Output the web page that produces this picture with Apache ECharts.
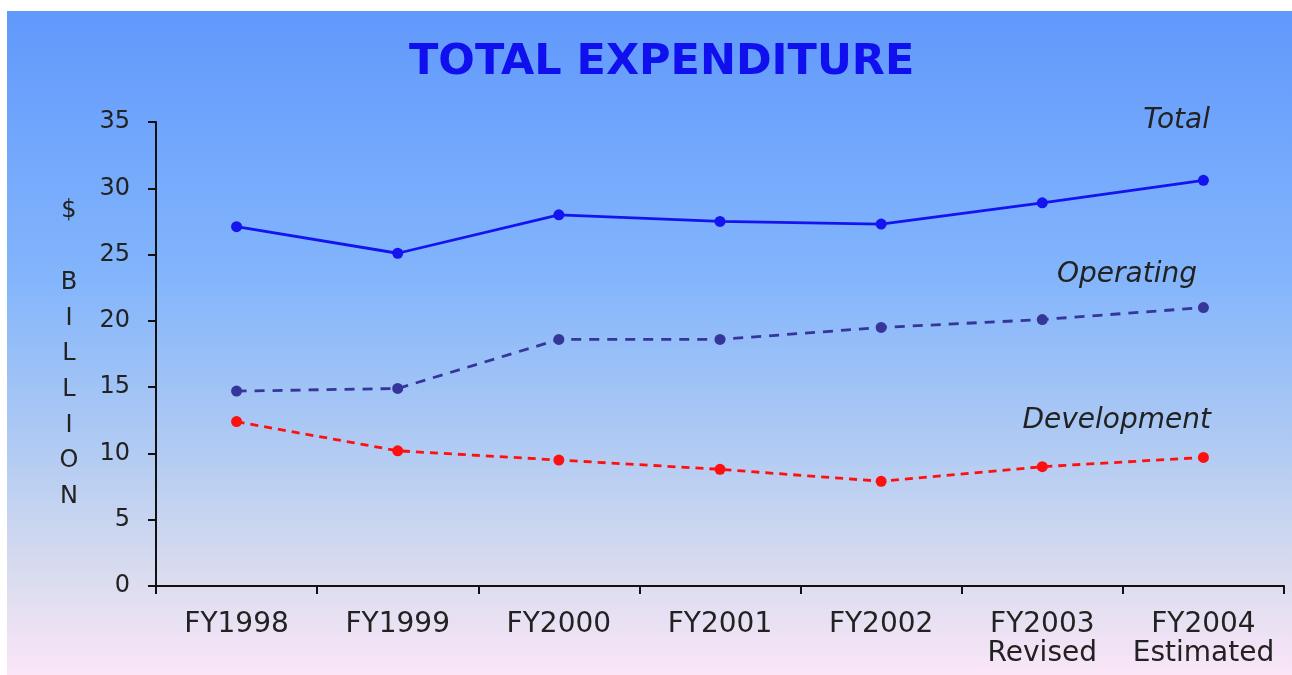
<!DOCTYPE html>
<html>
<head>
<meta charset="utf-8">
<script src="https://cdn.jsdelivr.net/npm/echarts@6/dist/echarts.min.js"></script>
<style>
  html, body { margin: 0; padding: 0; background: #fff; }
  #chart { position: absolute; left: 7px; top: 11px; width: 1285px; height: 664px; }
</style>
</head>
<body>
<div id="chart"></div>
<script>
// values, $ billion
const years = ['FY1998', 'FY1999', 'FY2000', 'FY2001', 'FY2002', 'FY2003\nRevised', 'FY2004\nEstimated']
const total = [27.1, 25.1, 28.0, 27.5, 27.3, 28.9, 30.6]
const operating = [14.7, 14.9, 18.6, 18.6, 19.5, 20.1, 21.0]
const development = [12.4, 10.2, 9.5, 8.8, 7.9, 9.0, 9.7]
const yTicks = { min: 0, max: 35, interval: 5 }

const font = 'DejaVu Sans'
const chart = echarts.init(document.getElementById('chart'))

chart.setOption({
  backgroundColor: {
    type: 'linear', x: 0, y: 0, x2: 0, y2: 1,
    colorStops: [
      { offset: 0, color: '#6199fc' },
      { offset: 0.4, color: '#83b5fc' },
      { offset: 0.65, color: '#afcaf3' },
      { offset: 0.85, color: '#dadcef' },
      { offset: 1, color: '#fae6f7' },
    ],
  },
  title: {
    text: 'TOTAL EXPENDITURE',
    left: 397,
    top: 25,
    textStyle: { fontFamily: font, fontSize: 43, fontWeight: 'bold', color: '#1010ee' },
  },
  grid: { left: 149, top: 111, right: 8, bottom: 89 },
  xAxis: {
    type: 'category',
    data: years,
    boundaryGap: true,
    axisLine: { lineStyle: { color: '#111', width: 2 } },
    axisTick: { show: true, length: 8, lineStyle: { color: '#111', width: 2 } },
    axisLabel: {
      margin: 24, color: '#222', fontFamily: font, fontSize: 28, lineHeight: 29,
      interval: 0,
    },
  },
  yAxis: {
    type: 'value',
    min: yTicks.min, max: yTicks.max, interval: yTicks.interval,
    name: '$\n\nB\nI\nL\nL\nI\nO\nN',
    nameLocation: 'middle',
    nameRotate: 0,
    nameGap: 87,
    nameTextStyle: {
      fontFamily: font, fontSize: 24, color: '#222', lineHeight: 35.7,
      align: 'center', verticalAlign: 'middle',
    },
    splitLine: { show: false },
    axisLine: { show: true, lineStyle: { color: '#111', width: 2 } },
    axisTick: { show: true, length: 8, lineStyle: { color: '#111', width: 2 } },
    axisLabel: { margin: 26, color: '#222', fontFamily: font, fontSize: 24 },
  },
  series: [
    {
      name: 'Total', type: 'line', data: total,
      symbol: 'circle', symbolSize: 11,
      itemStyle: { color: '#1414f0' },
      lineStyle: { color: '#1414f0', width: 2.8 },
    },
    {
      name: 'Operating', type: 'line', data: operating,
      symbol: 'circle', symbolSize: 11,
      itemStyle: { color: '#35359a' },
      lineStyle: { color: '#35359a', width: 2.8, type: [10, 8] },
    },
    {
      name: 'Development', type: 'line', data: development,
      symbol: 'circle', symbolSize: 11,
      itemStyle: { color: '#ff1010' },
      lineStyle: { color: '#ff1010', width: 2.8, type: [8, 6] },
    },
  ],
  graphic: [
    { type: 'text', right: 1285 - 1203, top: 96, style: { text: 'Total', font: 'italic 28px "DejaVu Sans"', fill: '#222' } },
    { type: 'text', right: 1285 - 1190, top: 250, style: { text: 'Operating', font: 'italic 28px "DejaVu Sans"', fill: '#222' } },
    { type: 'text', right: 1285 - 1204, top: 396, style: { text: 'Development', font: 'italic 28px "DejaVu Sans"', fill: '#222' } },
  ],
})
</script>
</body>
</html>
